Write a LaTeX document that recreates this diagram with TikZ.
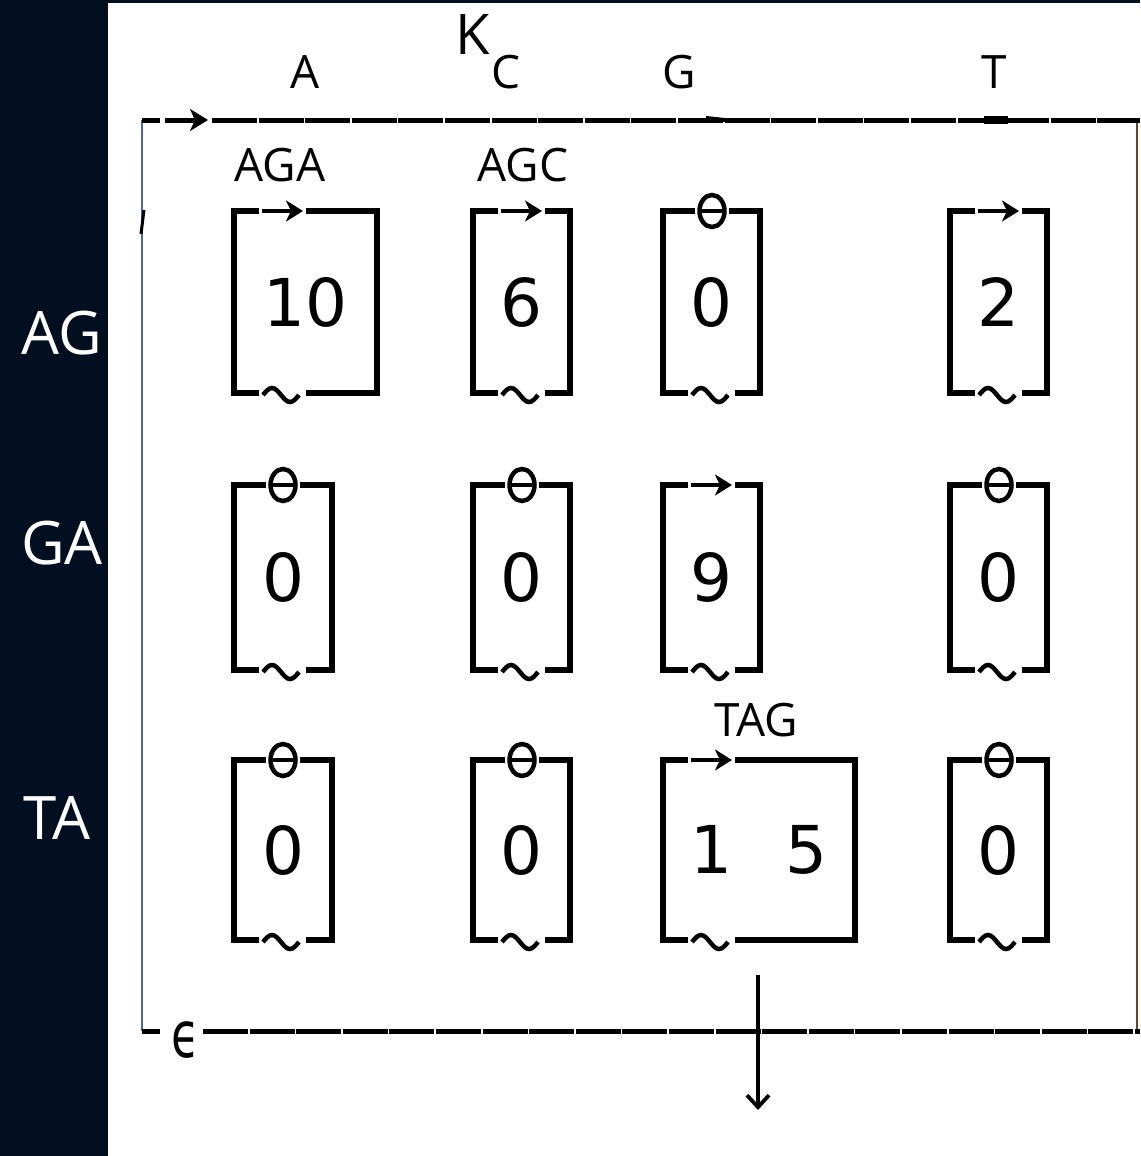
\documentclass[tikz,border=0pt]{standalone}
\usepackage{fontspec}
\setmainfont{Open Sans}
\newfontfamily\numfont{DejaVu Sans}
\usetikzlibrary{arrows.meta,calc}
\definecolor{navy}{RGB}{2,15,33}
\definecolor{leftblue}{RGB}{70,100,190}
\definecolor{rightbrown}{RGB}{110,70,30}
\tikzset{
  boxline/.style={line width=5.2pt},
  symline/.style={line width=4.5pt},
  frameline/.style={line width=5pt, dash pattern=on 45pt off 1.6pt},
  cell/.style={inner sep=0pt, outer sep=0pt, font=\numfont\fontsize{66}{70}\selectfont},
  collabel/.style={font=\fontsize{46}{50}\selectfont, inner sep=0pt},
  rowlabel/.style={font=\fontsize{60}{64}\selectfont, text=white, inner sep=0pt},
  toptip/.style={-{Stealth[length=17pt,width=21pt,inset=5pt]}},
}
\newcommand{\tildemark}[1]{%
  \draw[symline] ($(#1.south west)+(29,2)$) sin ++(9,-7) cos ++(9,7) sin ++(9,7) cos ++(9,-7);}
\newcommand{\arrowcell}[1]{%
  \draw[boxline] ([xshift=25pt]#1.north west) -- (#1.north west) -- (#1.south west) -- ([xshift=25pt]#1.south west);
  \draw[boxline] ([xshift=72pt]#1.north west) -- (#1.north east) -- (#1.south east) -- ([xshift=72pt]#1.south west);
  \draw[symline, toptip] ([xshift=28pt]#1.north west) -- ([xshift=69pt]#1.north west);
  \tildemark{#1}}
\newcommand{\thetacell}[1]{%
  \draw[boxline] ([xshift=32pt]#1.north west) -- (#1.north west) -- (#1.south west) -- ([xshift=25pt]#1.south west);
  \draw[boxline] ([xshift=66pt]#1.north west) -- (#1.north east) -- (#1.south east) -- ([xshift=72pt]#1.south west);
  \draw[symline] ([xshift=49pt]#1.north west) ellipse [x radius=12.5pt, y radius=16pt];
  \draw[symline] ([xshift=37pt]#1.north west) -- ([xshift=61pt]#1.north west);
  \tildemark{#1}}
\begin{document}
\begin{tikzpicture}[x=1pt,y=-1pt]
\useasboundingbox (0,0) rectangle (1140,1156);
\fill[white] (0,0) rectangle (1140,1156);
\fill[navy] (0,0) rectangle (108,1156);
\fill[navy] (108,0) rectangle (1140,3);

% row labels
\node[rowlabel] (rAG) at (62,333) {AG};
\node[rowlabel] (rGA) at (62,543) {GA};
\node[rowlabel] (rTA) at (57,818) {TA};

% column labels
\node[font=\fontsize{56}{60}\selectfont, inner sep=0pt] (K) at (473,35) {K};
\node[collabel] (hA) at (305,72) {A};
\node[collabel] (hC) at (506,72) {C};
\node[collabel] (hG) at (679,72) {G};
\node[collabel] (hT) at (994,72) {T};
\node[collabel] (lAGA) at (280,165) {AGA};
\node[collabel] (lAGC) at (523,165) {AGC};
\node[collabel] (lTAG) at (756,720) {TAG};

% frame
\coordinate (tl) at (142,120);
\coordinate (tr) at (1140,120);
\coordinate (bl) at (142,1031);
\coordinate (br) at (1140,1031);
\coordinate (rt) at (1137,120);
\coordinate (rb) at (1137,1031);
\draw[line width=1.3pt, leftblue] (tl) -- (bl);
\draw[line width=1.6pt, rightbrown] (rt) -- (rb);
\coordinate (ta1) at (160,120);
\coordinate (ta2) at (165,120);
\coordinate (ta3) at (208,120);
\coordinate (ta4) at (212,120);
\draw[line width=5pt] (tl) -- (ta1);
\draw[line width=5pt, -{Stealth[length=18pt,width=22pt,inset=5pt]}] (ta2) -- (ta3);
\draw[frameline] (ta4) -- (tr);
\draw[line width=8pt] (984,120) -- (1008,120);
\draw[line width=4pt] (706,118) -- (734,121);
% left small mark
\coordinate (lm1) at (144,210);
\coordinate (lm2) at (141,234);
\draw[line width=3pt] (lm1) -- (lm2);
% bottom line
\coordinate (ba1) at (160,1031);
\coordinate (ba2) at (203,1031);
\draw[line width=5pt] (bl) -- (ba1);
\node[inner sep=0pt] (eps) at (186,1040) {\scalebox{0.72}[1]{\numfont\fontsize{64}{64}\selectfont ϵ}};
\draw[frameline] (ba2) -- (br);
% down arrow
\coordinate (dA) at (758,975);
\coordinate (dB) at (758,1110);
\draw[line width=3.8pt, -{Straight Barb[length=12pt,width=22pt]}] (dA) -- (dB);

% cells
\node[cell, minimum width=143pt, minimum height=182pt] (c11) at (305.5,302) {10};
\node[cell, minimum width=97pt, minimum height=182pt] (c12) at (521.5,302) {6};
\node[cell, minimum width=97pt, minimum height=182pt] (c13) at (711.5,302) {0};
\node[cell, minimum width=97pt, minimum height=182pt] (c14) at (998.5,302) {2};
\node[cell, minimum width=98pt, minimum height=185pt] (c21) at (283,577.5) {0};
\node[cell, minimum width=97pt, minimum height=185pt] (c22) at (521.5,577.5) {0};
\node[cell, minimum width=97pt, minimum height=185pt] (c23) at (711.5,577.5) {9};
\node[cell, minimum width=97pt, minimum height=185pt] (c24) at (998.5,577.5) {0};
\node[cell, minimum width=98pt, minimum height=180pt] (c31) at (283,850) {0};
\node[cell, minimum width=97pt, minimum height=180pt] (c32) at (521.5,850) {0};
\node[cell, minimum width=192pt, minimum height=180pt] (c33) at (759,850) {1\hspace{54pt}5};
\node[cell, minimum width=97pt, minimum height=180pt] (c34) at (998.5,850) {0};

\arrowcell{c11}
\arrowcell{c12}
\thetacell{c13}
\arrowcell{c14}
\thetacell{c21}
\thetacell{c22}
\arrowcell{c23}
\thetacell{c24}
\thetacell{c31}
\thetacell{c32}
\arrowcell{c33}
\thetacell{c34}
\end{tikzpicture}
\end{document}
